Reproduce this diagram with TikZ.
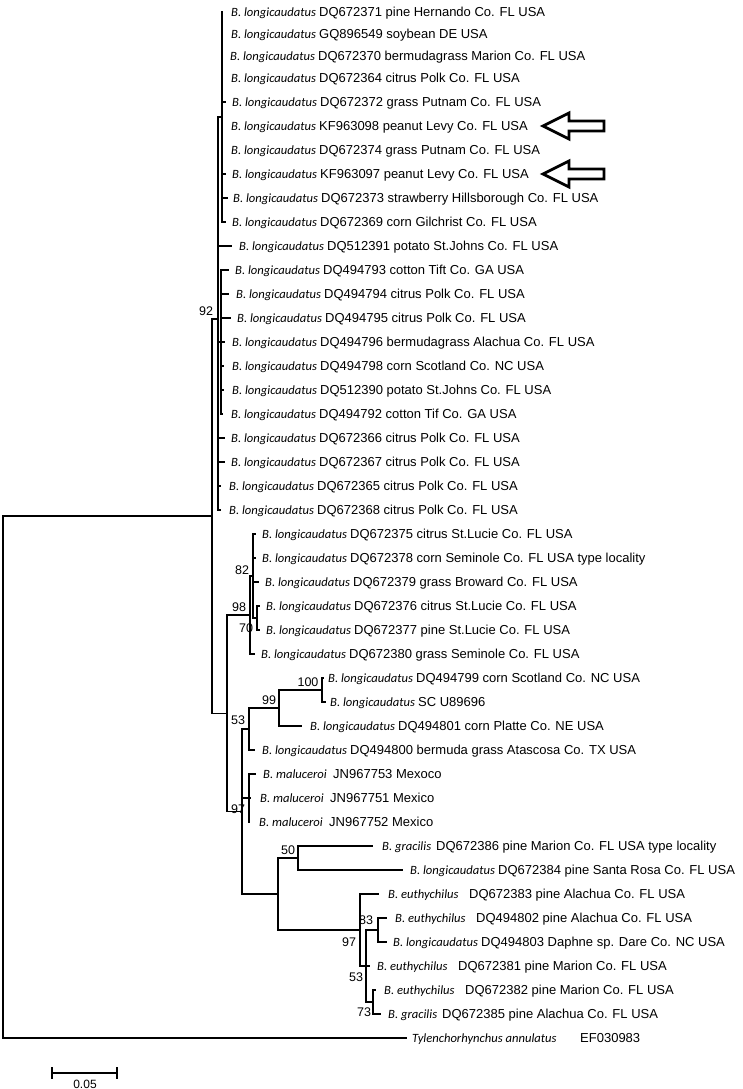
\documentclass[tikz,border=0pt]{standalone}
\usepackage{fontspec}
\setmainfont{Liberation Sans}
\newfontfamily\carl{Carlito}
\newcommand\ry[1]{(ifthenelse(#1<4,12+(#1-1)*22,6+(#1-1)*24))}
\newcommand\Blon{B. longicaudatus}
\newcommand\Bmal{B. maluceroi}
\newcommand\Bgra{B. gracilis}
\newcommand\Beut{B. euthychilus}
\tikzset{
 br/.style={line width=1.3pt, line cap=rect},
 tax/.style={anchor=base west, inner sep=0pt, font=\carl\itshape\fontsize{12.6}{14}\selectfont},
 acc/.style={anchor=base west, inner sep=0pt, font=\fontsize{13}{15}\selectfont},
 boot/.style={inner sep=0pt, font=\fontsize{12.5}{14}\selectfont},
 marker/.style={line width=2.8pt, line join=miter}
}
\newcommand\leaf[6]{%
 \pgfmathsetmacro\rowy{\ry{#1}}%
 \coordinate (l#1) at (#2,\rowy);
 \node[tax] (t#1) at (#3,\rowy+4.6) {#4};
 \node[acc] (a#1) at ({#3+#5},\rowy+4.6) {#6};
}
\begin{document}
\begin{tikzpicture}[x=1pt,y=-1pt]
\fill[white] (0,0) rectangle (742,1089);
\useasboundingbox (0,0) rectangle (742,1089);
% leaves
\leaf{1}{222}{231}{\Blon}{88}{DQ672371 pine Hernando Co. FL USA}
\leaf{2}{222}{231}{\Blon}{88}{GQ896549 soybean DE USA}
\leaf{3}{222}{230}{\Blon}{88}{DQ672370 bermudagrass Marion Co. FL USA}
\leaf{4}{222}{231}{\Blon}{88}{DQ672364 citrus Polk Co. FL USA}
\leaf{5}{225}{232}{\Blon}{88}{DQ672372 grass Putnam Co. FL USA}
\leaf{6}{222}{231}{\Blon}{88}{KF963098 peanut Levy Co. FL USA}
\leaf{7}{222}{231}{\Blon}{88}{DQ672374 grass Putnam Co. FL USA}
\leaf{8}{225}{232}{\Blon}{88}{KF963097 peanut Levy Co. FL USA}
\leaf{9}{227}{233}{\Blon}{88}{DQ672373 strawberry Hillsborough Co. FL USA}
\leaf{10}{225}{232}{\Blon}{88}{DQ672369 corn Gilchrist Co. FL USA}
\leaf{11}{231}{239}{\Blon}{88}{DQ512391 potato St.Johns Co. FL USA}
\leaf{12}{228}{235}{\Blon}{88}{DQ494793 cotton Tift Co. GA USA}
\leaf{13}{228}{236}{\Blon}{88}{DQ494794 citrus Polk Co. FL USA}
\leaf{14}{230}{237}{\Blon}{88}{DQ494795 citrus Polk Co. FL USA}
\leaf{15}{224}{232}{\Blon}{88}{DQ494796 bermudagrass Alachua Co. FL USA}
\leaf{16}{223}{232}{\Blon}{88}{DQ494798 corn Scotland Co. NC USA}
\leaf{17}{223}{232}{\Blon}{88}{DQ512390 potato St.Johns Co. FL USA}
\leaf{18}{222}{231}{\Blon}{88}{DQ494792 cotton Tif Co. GA USA}
\leaf{19}{224}{231}{\Blon}{88}{DQ672366 citrus Polk Co. FL USA}
\leaf{20}{224}{231}{\Blon}{88}{DQ672367 citrus Polk Co. FL USA}
\leaf{21}{220}{229}{\Blon}{88}{DQ672365 citrus Polk Co. FL USA}
\leaf{22}{220}{229}{\Blon}{88}{DQ672368 citrus Polk Co. FL USA}
\leaf{23}{255}{262}{\Blon}{88}{DQ672375 citrus St.Lucie Co. FL USA}
\leaf{24}{255}{262}{\Blon}{88}{DQ672378 corn Seminole Co. FL USA type locality}
\leaf{25}{258}{265}{\Blon}{88}{DQ672379 grass Broward Co. FL USA}
\leaf{26}{259}{266}{\Blon}{88}{DQ672376 citrus St.Lucie Co. FL USA}
\leaf{27}{259}{266}{\Blon}{88}{DQ672377 pine St.Lucie Co. FL USA}
\leaf{28}{254}{261}{\Blon}{88}{DQ672380 grass Seminole Co. FL USA}
\leaf{29}{323}{328}{\Blon}{88}{DQ494799 corn Scotland Co. NC USA}
\leaf{30}{325}{330}{\Blon}{88}{SC U89696}
\leaf{31}{301}{310}{\Blon}{88}{DQ494801 corn Platte Co. NE USA}
\leaf{32}{254}{262}{\Blon}{88}{DQ494800 bermuda grass Atascosa Co. TX USA}
\leaf{33}{255}{263}{\Bmal}{70}{JN967753 Mexoco}
\leaf{34}{250}{260}{\Bmal}{70}{JN967751 Mexico}
\leaf{35}{249}{259}{\Bmal}{70}{JN967752 Mexico}
\leaf{36}{372}{382}{\Bgra}{54}{DQ672386 pine Marion Co. FL USA type locality}
\leaf{37}{402}{410}{\Blon}{88}{DQ672384 pine Santa Rosa Co. FL USA}
\leaf{38}{378}{388}{\Beut}{81}{DQ672383 pine Alachua Co. FL USA}
\leaf{39}{386}{395}{\Beut}{81}{DQ494802 pine Alachua Co. FL USA}
\leaf{40}{386}{393}{\Blon}{88}{DQ494803 Daphne sp. Dare Co. NC USA}
\leaf{41}{369}{377}{\Beut}{81}{DQ672381 pine Marion Co. FL USA}
\leaf{42}{375}{384}{\Beut}{81}{DQ672382 pine Marion Co. FL USA}
\leaf{43}{380}{388}{\Bgra}{54}{DQ672385 pine Alachua Co. FL USA}
\leaf{44}{406}{412}{Tylenchorhynchus annulatus}{168}{EF030983}
% internal node heights
\pgfmathsetmacro\YA{(\ry{1}+\ry{10})/2}
\pgfmathsetmacro\YC{(\ry{12}+\ry{18})/2}
\pgfmathsetmacro\YNt{319}
\pgfmathsetmacro\YSz{(\ry{26}+\ry{27})/2}
\pgfmathsetmacro\YEt{(\ry{23}+\YSz)/2}
\pgfmathsetmacro\YNe{(\YEt+\ry{28})/2}
\pgfmathsetmacro\YH{(\ry{29}+\ry{30})/2}
\pgfmathsetmacro\YNN{(\YH+\ry{31})/2}
\pgfmathsetmacro\YFt{(\YNN+\ry{32})/2}
\pgfmathsetmacro\YMal{(\ry{33}+\ry{35})/2}
\pgfmathsetmacro\YFz{(\ry{36}+\ry{37})/2}
\pgfmathsetmacro\YEth{(\ry{39}+\ry{40})/2}
\pgfmathsetmacro\YSth{(\ry{42}+\ry{43})/2}
\pgfmathsetmacro\YFtb{(\YEth+\YSth)/2}
\pgfmathsetmacro\YNSb{(\ry{38}+\YFtb)/2}
\pgfmathsetmacro\YBot{(\YFz+\YNSb)/2}
\pgfmathsetmacro\YNSa{(\YFt+\YBot)/2}
\pgfmathsetmacro\YL{(\YNe+\YNSa)/2}
\pgfmathsetmacro\YOne{(\YNt+\YL)/2}
\pgfmathsetmacro\YR{(\YOne+\ry{44})/2}
\coordinate (A) at (222,\YA);
\coordinate (C) at (221,\YC);
\coordinate (n92) at (218,\YNt);
\coordinate (n70) at (257,\YSz);
\coordinate (n82) at (253,\YEt);
\coordinate (n98) at (250,\YNe);
\coordinate (n100) at (322,\YH);
\coordinate (n99) at (279,\YNN);
\coordinate (n53) at (249,\YFt);
\coordinate (nmal) at (249,\YMal);
\coordinate (n50) at (298,\YFz);
\coordinate (n83) at (378,\YEth);
\coordinate (n73) at (373,\YSth);
\coordinate (n53b) at (366,\YFtb);
\coordinate (n97b) at (360,\YNSb);
\coordinate (nbot) at (278,\YBot);
\coordinate (n97) at (242,\YNSa);
\coordinate (nL) at (227,\YL);
\coordinate (n1) at (212,\YOne);
\coordinate (R) at (3,\YR);
% branches
\draw[br] (R) |- (n1);
\draw[br] (R) |- (l44);
\draw[br] (n1) |- (n92);
\draw[br] (n1) |- (nL);
\foreach \c in {A,l11,C,l19,l20,l21,l22} \draw[br] (n92) |- (\c);
\foreach \k in {1,...,10} \draw[br] (A) |- (l\k);
\foreach \k in {12,...,18} \draw[br] (C) |- (l\k);
\draw[br] (nL) |- (n98);
\draw[br] (nL) |- (n97);
\draw[br] (n98) |- (n82);
\draw[br] (n98) |- (l28);
\foreach \c in {l23,l24,l25,n70} \draw[br] (n82) |- (\c);
\foreach \c in {l26,l27} \draw[br] (n70) |- (\c);
\foreach \c in {n53,nmal,nbot} \draw[br] (n97) |- (\c);
\foreach \c in {n99,l32} \draw[br] (n53) |- (\c);
\foreach \c in {n100,l31} \draw[br] (n99) |- (\c);
\foreach \c in {l29,l30} \draw[br] (n100) |- (\c);
\foreach \c in {l33,l34,l35} \draw[br] (nmal) |- (\c);
\foreach \c in {n50,n97b} \draw[br] (nbot) |- (\c);
\foreach \c in {l36,l37} \draw[br] (n50) |- (\c);
\foreach \c in {l38,n53b} \draw[br] (n97b) |- (\c);
\foreach \c in {n83,l41,n73} \draw[br] (n53b) |- (\c);
\foreach \c in {l39,l40} \draw[br] (n83) |- (\c);
\foreach \c in {l42,l43} \draw[br] (n73) |- (\c);
% bootstrap values
\node[boot] (b92) at (206,311) {92};
\node[boot] (b82) at (242,570) {82};
\node[boot] (b98) at (239,607) {98};
\node[boot] (b70) at (246,628) {70};
\node[boot] (b100) at (308,682) {100};
\node[boot] (b99) at (269,700) {99};
\node[boot] (b53) at (238,720) {53};
\node[boot] (b97) at (238,809) {97};
\node[boot] (b50) at (288,850) {50};
\node[boot] (b83) at (366,920) {83};
\node[boot] (b97x) at (349,942) {97};
\node[boot] (b53x) at (356,977) {53};
\node[boot] (b73) at (364,1012) {73};
% arrows
\foreach \k in {6,8}{
 \pgfmathsetmacro\ya{\ry{\k}}
 \draw[marker] (543,\ya) -- (569,\ya-13) -- (569,\ya-5) -- (604,\ya-5) -- (604,\ya+5) -- (569,\ya+5) -- (569,\ya+13) -- cycle;
}
% scale bar
\coordinate (s1) at (52,1073);
\coordinate (s2) at (117,1073);
\draw[br] (s1) -- (s2);
\draw[br] ([yshift=5pt]s1) -- ([yshift=-5pt]s1);
\draw[br] ([yshift=5pt]s2) -- ([yshift=-5pt]s2);
\node[boot, font=\fontsize{12}{14}\selectfont] (sl) at (85,1084) {0.05};
\end{tikzpicture}
\end{document}
